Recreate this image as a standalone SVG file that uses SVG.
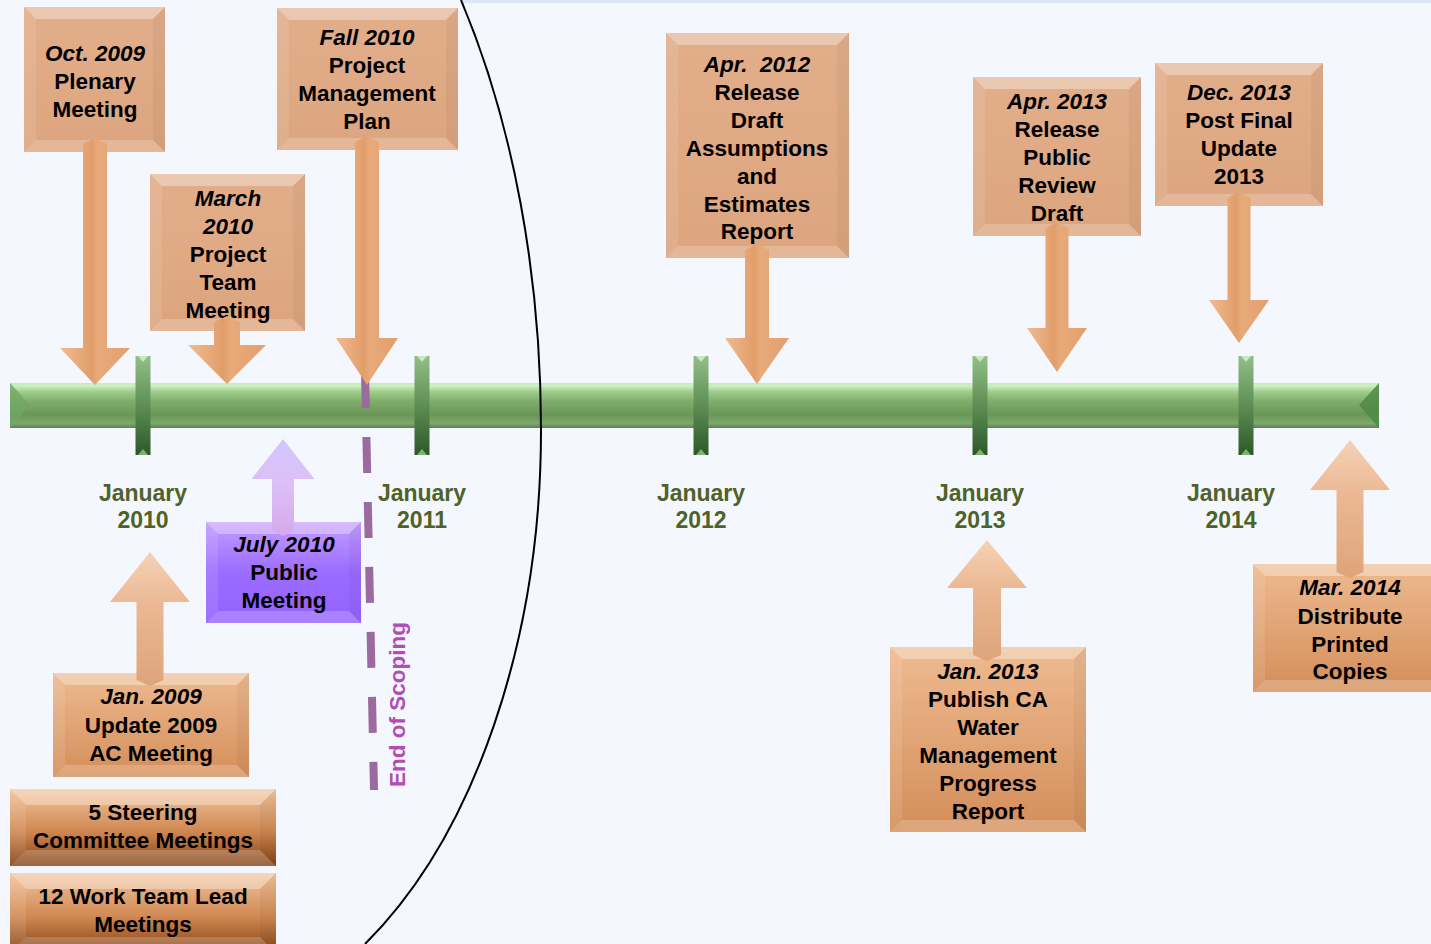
<svg xmlns="http://www.w3.org/2000/svg" width="1431" height="944" viewBox="0 0 1431 944">
<defs>
<linearGradient id="gPeach" x1="0" y1="0" x2="0" y2="1"><stop offset="0" stop-color="#E2AE8A"/><stop offset="1" stop-color="#DCA57F"/></linearGradient>
<linearGradient id="gWarm" x1="0" y1="0" x2="0" y2="1"><stop offset="0" stop-color="#EEBA90"/><stop offset="1" stop-color="#D48E5A"/></linearGradient>
<linearGradient id="gDark" x1="0" y1="0" x2="0" y2="1"><stop offset="0" stop-color="#F2C49C"/><stop offset="0.55" stop-color="#D08852"/><stop offset="1" stop-color="#844015"/></linearGradient>
<linearGradient id="gPurple" x1="0" y1="0" x2="0" y2="1"><stop offset="0" stop-color="#C49CFF"/><stop offset="0.5" stop-color="#9C6CFF"/><stop offset="1" stop-color="#9262FF"/></linearGradient>
<linearGradient id="gArrowDown" x1="0" y1="0" x2="1" y2="0"><stop offset="0" stop-color="#F0BC92"/><stop offset="0.45" stop-color="#E19E6A"/><stop offset="0.55" stop-color="#E8AA7A"/><stop offset="1" stop-color="#E29F6C"/></linearGradient>
<linearGradient id="gArrowUp" x1="0" y1="0" x2="0" y2="1"><stop offset="0" stop-color="#F6D2B6"/><stop offset="0.4" stop-color="#EAB892"/><stop offset="1" stop-color="#DEA47A"/></linearGradient>
<linearGradient id="gArrowPurple" x1="0" y1="0" x2="0" y2="1"><stop offset="0" stop-color="#D2C6FF"/><stop offset="0.45" stop-color="#DCC0F6"/><stop offset="1" stop-color="#D6A8EC"/></linearGradient>
<linearGradient id="gBar" x1="0" y1="0" x2="0" y2="1"><stop offset="0" stop-color="#D2E2CA"/><stop offset="0.06" stop-color="#CBF2C2"/><stop offset="0.2" stop-color="#9ECC8A"/><stop offset="0.4" stop-color="#80AF6C"/><stop offset="0.7" stop-color="#6A9658"/><stop offset="0.9" stop-color="#7CA86C"/><stop offset="1" stop-color="#5E7E54"/></linearGradient>
<linearGradient id="gTick" x1="0" y1="0" x2="0" y2="1"><stop offset="0" stop-color="#92C088"/><stop offset="0.5" stop-color="#5E8E54"/><stop offset="1" stop-color="#2C5828"/></linearGradient>
</defs>
<style>
.bt{font-family:"Liberation Sans",Arial,sans-serif;font-weight:bold;font-size:22.5px;fill:#000;text-anchor:middle}
.it{font-style:italic}
.yr{font-family:"Liberation Sans",Arial,sans-serif;font-weight:bold;font-size:23px;fill:#4F6228;text-anchor:middle}
.bvT{fill:#fff;fill-opacity:0.32}
.bvB{fill:#fff;fill-opacity:0.2}
.bvL{fill:#fff;fill-opacity:0.1}
.bvR{fill:#000;fill-opacity:0.04}
.dn{fill:url(#gArrowDown)}
.up{fill:url(#gArrowUp)}
.tk{fill:url(#gTick)}
.tkT{fill:#C8E8C0}
.tkB{fill:#7FB070}
</style>
<rect width="1431" height="944" fill="#F5F7FF"/>
<rect x="462" y="0" width="969" height="3" fill="#DCE6F7"/>

<g id="timeline">
<rect x="10" y="383" width="1369" height="45" fill="url(#gBar)"/>
<path d="M10 383L30 405L10 428z" fill="#6FA862" fill-opacity="0.8"/>
<path d="M1379 383L1359 405L1379 428z" fill="#4E8A45" fill-opacity="0.85"/>
<g id="ticks">
<rect class="tk" x="135.5" y="356" width="15" height="99"/><path class="tkT" d="M138 356h10l-5 6z"/><path class="tkB" d="M138 455h10l-5-6z"/>
<rect class="tk" x="414.5" y="356" width="15" height="99"/><path class="tkT" d="M417 356h10l-5 6z"/><path class="tkB" d="M417 455h10l-5-6z"/>
<rect class="tk" x="693.5" y="356" width="15" height="99"/><path class="tkT" d="M696 356h10l-5 6z"/><path class="tkB" d="M696 455h10l-5-6z"/>
<rect class="tk" x="972.5" y="356" width="15" height="99"/><path class="tkT" d="M975 356h10l-5 6z"/><path class="tkB" d="M975 455h10l-5-6z"/>
<rect class="tk" x="1238.5" y="356" width="15" height="99"/><path class="tkT" d="M1241 356h10l-5 6z"/><path class="tkB" d="M1241 455h10l-5-6z"/>
</g>
<g id="year-labels">
<text class="yr" x="143" y="501">January</text><text class="yr" x="143" y="528">2010</text>
<text class="yr" x="422" y="501">January</text><text class="yr" x="422" y="528">2011</text>
<text class="yr" x="701" y="501">January</text><text class="yr" x="701" y="528">2012</text>
<text class="yr" x="980" y="501">January</text><text class="yr" x="980" y="528">2013</text>
<text class="yr" x="1231" y="501">January</text><text class="yr" x="1231" y="528">2014</text>
</g>
</g>

<g id="end-of-scoping">
<line x1="365" y1="372" x2="374" y2="790" stroke="#9B6A9F" stroke-width="8" stroke-dasharray="36 29"/>
<text transform="translate(405,787) rotate(-90)" font-family="Liberation Sans, Arial, sans-serif" font-weight="bold" font-size="22.5" fill="#B04DB8">End of Scoping</text>
</g>

<g id="node-oct2009">
<rect x="24" y="7" width="141" height="145" fill="url(#gPeach)"/>
<path class="bvT" d="M24 7h141l-12 12H36z"/><path class="bvB" d="M24 152h141l-12-12H36z"/><path class="bvL" d="M24 7l12 12V140l-12 12z"/><path class="bvR" d="M165 7l-12 12V140l12 12z"/>
<text class="bt it" x="95" y="61">Oct. 2009</text><text class="bt" x="95" y="89">Plenary</text><text class="bt" x="95" y="117">Meeting</text>
</g>
<g id="node-mar2010">
<rect x="150" y="174" width="155" height="157" fill="url(#gPeach)"/>
<path class="bvT" d="M150 174h155l-12 12H162z"/><path class="bvB" d="M150 331h155l-12-12H162z"/><path class="bvL" d="M150 174l12 12V319l-12 12z"/><path class="bvR" d="M305 174l-12 12V319l12 12z"/>
<text class="bt it" x="228" y="206">March</text><text class="bt it" x="228" y="234">2010</text><text class="bt" x="228" y="262">Project</text><text class="bt" x="228" y="290">Team</text><text class="bt" x="228" y="318">Meeting</text>
</g>
<g id="node-fall2010">
<rect x="277" y="8" width="181" height="142" fill="url(#gPeach)"/>
<path class="bvT" d="M277 8h181l-12 12H289z"/><path class="bvB" d="M277 150h181l-12-12H289z"/><path class="bvL" d="M277 8l12 12V138l-12 12z"/><path class="bvR" d="M458 8l-12 12V138l12 12z"/>
<text class="bt it" x="367" y="45">Fall 2010</text><text class="bt" x="367" y="73">Project</text><text class="bt" x="367" y="101">Management</text><text class="bt" x="367" y="129">Plan</text>
</g>
<g id="node-apr2012">
<rect x="666" y="33" width="183" height="225" fill="url(#gPeach)"/>
<path class="bvT" d="M666 33h183l-12 12H678z"/><path class="bvB" d="M666 258h183l-12-12H678z"/><path class="bvL" d="M666 33l12 12V246l-12 12z"/><path class="bvR" d="M849 33l-12 12V246l12 12z"/>
<text class="bt it" x="757" y="72" xml:space="preserve">Apr.  2012</text><text class="bt" x="757" y="100">Release</text><text class="bt" x="757" y="128">Draft</text><text class="bt" x="757" y="156">Assumptions</text><text class="bt" x="757" y="184">and</text><text class="bt" x="757" y="212">Estimates</text><text class="bt" x="757" y="239">Report</text>
</g>
<g id="node-apr2013">
<rect x="973" y="77" width="168" height="159" fill="url(#gPeach)"/>
<path class="bvT" d="M973 77h168l-12 12H985z"/><path class="bvB" d="M973 236h168l-12-12H985z"/><path class="bvL" d="M973 77l12 12V224l-12 12z"/><path class="bvR" d="M1141 77l-12 12V224l12 12z"/>
<text class="bt it" x="1057" y="109">Apr. 2013</text><text class="bt" x="1057" y="137">Release</text><text class="bt" x="1057" y="165">Public</text><text class="bt" x="1057" y="193">Review</text><text class="bt" x="1057" y="221">Draft</text>
</g>
<g id="node-dec2013">
<rect x="1155" y="63" width="168" height="143" fill="url(#gPeach)"/>
<path class="bvT" d="M1155 63h168l-12 12H1167z"/><path class="bvB" d="M1155 206h168l-12-12H1167z"/><path class="bvL" d="M1155 63l12 12V194l-12 12z"/><path class="bvR" d="M1323 63l-12 12V194l12 12z"/>
<text class="bt it" x="1239" y="100">Dec. 2013</text><text class="bt" x="1239" y="128">Post Final</text><text class="bt" x="1239" y="156">Update</text><text class="bt" x="1239" y="184">2013</text>
</g>
<g id="node-jul2010">
<rect x="206" y="522" width="155" height="101" fill="url(#gPurple)"/>
<path class="bvT" d="M206 522h155l-12 12H218z"/><path class="bvB" d="M206 623h155l-12-12H218z"/><path class="bvL" d="M206 522l12 12V611l-12 12z"/><path class="bvR" d="M361 522l-12 12V611l12 12z"/>
<text class="bt it" x="284" y="552">July 2010</text><text class="bt" x="284" y="580">Public</text><text class="bt" x="284" y="608">Meeting</text>
</g>
<g id="node-jan2009">
<rect x="53" y="673" width="196" height="104" fill="url(#gWarm)"/>
<path class="bvT" d="M53 673h196l-12 12H65z"/><path class="bvB" d="M53 777h196l-12-12H65z"/><path class="bvL" d="M53 673l12 12V765l-12 12z"/><path class="bvR" d="M249 673l-12 12V765l12 12z"/>
<text class="bt it" x="151" y="704">Jan. 2009</text><text class="bt" x="151" y="733">Update 2009</text><text class="bt" x="151" y="761">AC Meeting</text>
</g>
<g id="node-steering">
<rect x="10" y="789" width="266" height="77" fill="url(#gDark)"/>
<path class="bvT" d="M10 789h266l-16 16H26z"/><path class="bvB" d="M10 866h266l-16-16H26z"/><path class="bvL" d="M10 789l16 16V850l-16 16z"/><path class="bvR" d="M276 789l-16 16V850l16 16z"/>
<text class="bt" x="143" y="820">5 Steering</text><text class="bt" x="143" y="848">Committee Meetings</text>
</g>
<g id="node-workteam">
<rect x="10" y="873" width="266" height="80" fill="url(#gDark)"/>
<path class="bvT" d="M10 873h266l-16 16H26z"/><path class="bvB" d="M10 953h266l-16-16H26z"/><path class="bvL" d="M10 873l16 16V937l-16 16z"/><path class="bvR" d="M276 873l-16 16V937l16 16z"/>
<text class="bt" x="143" y="904">12 Work Team Lead</text><text class="bt" x="143" y="932">Meetings</text>
</g>
<g id="node-jan2013">
<rect x="890" y="647" width="196" height="185" fill="url(#gWarm)"/>
<path class="bvT" d="M890 647h196l-12 12H902z"/><path class="bvB" d="M890 832h196l-12-12H902z"/><path class="bvL" d="M890 647l12 12V820l-12 12z"/><path class="bvR" d="M1086 647l-12 12V820l12 12z"/>
<text class="bt it" x="988" y="679">Jan. 2013</text><text class="bt" x="988" y="707">Publish CA</text><text class="bt" x="988" y="735">Water</text><text class="bt" x="988" y="763">Management</text><text class="bt" x="988" y="791">Progress</text><text class="bt" x="988" y="819">Report</text>
</g>
<g id="node-mar2014">
<rect x="1253" y="564" width="190" height="128" fill="url(#gWarm)"/>
<path class="bvT" d="M1253 564h190l-12 12H1265z"/><path class="bvB" d="M1253 692h190l-12-12H1265z"/><path class="bvL" d="M1253 564l12 12V680l-12 12z"/><path class="bvR" d="M1443 564l-12 12V680l12 12z"/>
<text class="bt it" x="1350" y="595">Mar. 2014</text><text class="bt" x="1350" y="624">Distribute</text><text class="bt" x="1350" y="652">Printed</text><text class="bt" x="1350" y="679">Copies</text>
</g>

<g id="connectors">
<polygon class="dn" points="95,138 107,144 107,348 130,348 95,385 60,348 83,348 83,144"/>
<polygon class="dn" points="227,316 240,322 240,345 266,345 227,384 188,345 214,345 214,322"/>
<polygon class="dn" points="367,136 379,142 379,338 398,338 367,385 336,338 355,338 355,142"/>
<polygon class="dn" points="757,244 769,250 769,338 789,338 757,384 725,338 745,338 745,250"/>
<polygon class="dn" points="1057,222 1068.5,228 1068.5,328 1087,328 1057,372 1027,328 1045.5,328 1045.5,228"/>
<polygon class="dn" points="1239,192 1250.5,198 1250.5,300 1269,300 1239,343 1209,300 1227.5,300 1227.5,198"/>
<polygon fill="url(#gArrowPurple)" points="283,439 314.5,479 294,479 294,530 283,536 272,530 272,479 251.5,479"/>
<polygon class="up" points="150,552 190,602 163.5,602 163.5,680 150,686 136.5,680 136.5,602 110,602"/>
<polygon class="up" points="987,540 1027,588 1001,588 1001,655 987,661 973,655 973,588 947,588"/>
<polygon class="up" points="1350,440 1390,490 1363.5,490 1363.5,572 1350,578 1336.5,572 1336.5,490 1310,490"/>
</g>

<path id="scope-arc" d="M461 0A380 700 0 0 1 541 430A364 600 0 0 1 365 944" fill="none" stroke="#000" stroke-width="2"/>
</svg>
